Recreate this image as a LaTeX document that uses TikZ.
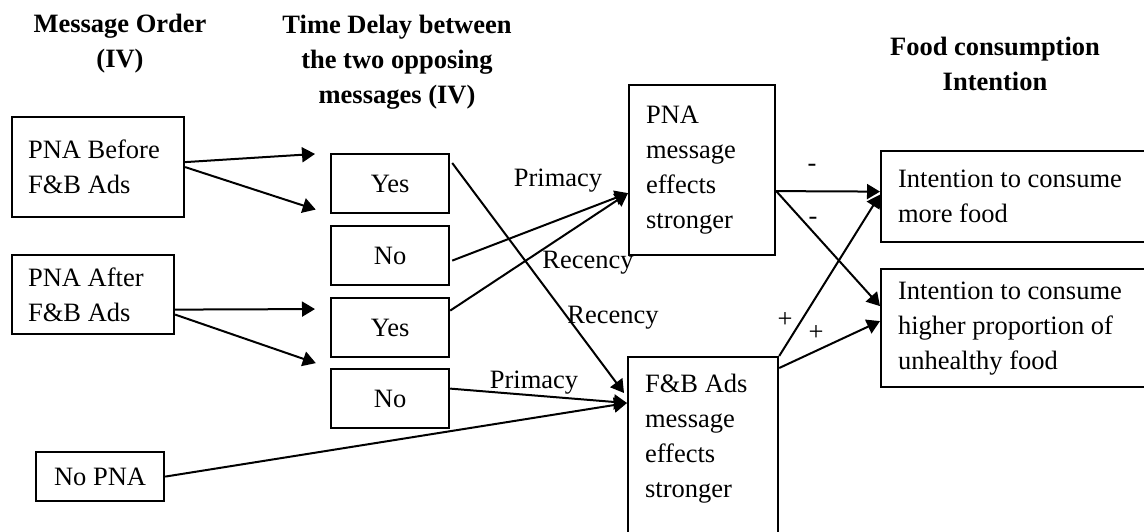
\documentclass[tikz,border=0pt]{standalone}
\usepackage{fontspec}
\setmainfont{Liberation Serif}
\usetikzlibrary{arrows.meta,calc}
\newcommand{\diagfont}{\fontsize{13.25pt}{17.5pt}\selectfont}

\begin{document}
\begin{tikzpicture}[x=0.5pt,y=-0.5pt,
  box/.style={draw, line width=1.1pt, anchor=north west, inner ysep=0pt, font=\diagfont},
  leftbox/.style={box, align=flush left, inner xsep=8pt},
  choice/.style={box, align=center, minimum width=59pt, minimum height=29.5pt},
  head/.style={font=\diagfont\bfseries, align=center},
  lbl/.style={font=\diagfont, inner sep=0pt},
  arr/.style={-{Triangle[length=6.5pt,width=7.5pt]}, line width=1pt}]
  \useasboundingbox (0,0) rectangle (1144,531);

  % column headings
  \node[head] (hOrder) at (120,44) {Message Order\\(IV)};
  \node[head] (hDelay) at (397,62) {Time Delay between\\the two opposing\\messages (IV)};
  \node[head] (hFood) at (995,64) {Food consumption\\Intention};

  % message order
  \node[leftbox, text width=70pt, minimum height=50pt] (before) at (11,116) {PNA Before\\F\&B Ads};
  \node[leftbox, text width=65pt, minimum height=39.5pt] (after) at (11,254) {PNA After\\F\&B Ads};
  \node[box, align=center, minimum width=64pt, minimum height=24.5pt] (nopna) at (35,451) {No PNA};

  % time delay
  \node[choice] (yesA) at (330,153) {Yes};
  \node[choice] (noA) at (330,225) {No};
  \node[choice] (yesB) at (330,297) {Yes};
  \node[choice] (noB) at (330,368) {No};

  % message effects
  \node[leftbox, inner xsep=8.5pt, text width=56pt, minimum height=85pt] (pna) at (628,84) {PNA\\message\\effects\\stronger};
  \node[leftbox, inner xsep=8.5pt, text width=58pt, minimum height=131pt] (fb) at (627,356) {F\&B Ads\\message\\effects\\stronger\\~\\~\\~};

  % intentions
  \node[leftbox, inner xsep=8.5pt, text width=117pt, minimum height=45.5pt] (intA) at (880,150) {Intention to consume\\more food};
  \node[leftbox, inner xsep=8.5pt, text width=117pt, minimum height=59pt] (intB) at (880,268) {Intention to consume\\higher proportion of\\unhealthy food};

  \coordinate (pnaIn) at ($(pna.west)+(0,23)$);
  \coordinate (fbIn) at ($(fb.north west)+(0,47)$);
  \coordinate (pnaOut) at ($(pna.east)+(0,21)$);

  \draw[arr, shorten >=7.5pt] ($(before.east)+(0,-5)$) -- (yesA.north west);
  \draw[arr, shorten >=7.5pt] (before.east) -- (yesA.south west);
  \draw[arr, shorten >=7.5pt] ($(after.east)+(0,15)$) -- ($(yesB.north west)+(0,12)$);
  \draw[arr, shorten >=7.5pt] ($(after.east)+(0,20)$) -- (noB.north west);

  \draw[arr] ($(yesA.north east)+(2,10)$) -- ($(fb.north west)+(-3,37)$);
  \draw[arr] ($(noA.east)+(2,5)$) -- (pnaIn);
  \draw[arr] ($(yesB.east)+(0,-17)$) -- (pnaIn);
  \draw[arr] ($(noB.east)+(0,-10)$) -- (fbIn);
  \draw[arr] (nopna.east) -- (fbIn);

  \draw[arr] (pnaOut) -- ($(intA.west)+(0,-5)$);
  \draw[arr] (pnaOut) -- ($(intB.west)+(0,-22)$);
  \draw[arr] (fb.north east) -- ($(intA.west)+(0,-2)$);
  \draw[arr] ($(fb.north east)+(0,12)$) -- ($(intB.west)+(0,-7)$);

  \node[lbl] (primA) at (558,181) {Primacy};
  \node[lbl] (recA) at (588,263) {Recency};
  \node[lbl] (recB) at (613,318) {Recency};
  \node[lbl] (primB) at (534,383) {Primacy};
  \node[lbl] (minA) at (812,168) {-};
  \node[lbl] (minB) at (813,221) {-};
  \node[lbl] (plusA) at (785,320) {+};
  \node[lbl] (plusB) at (816,333) {+};
\end{tikzpicture}
\end{document}
